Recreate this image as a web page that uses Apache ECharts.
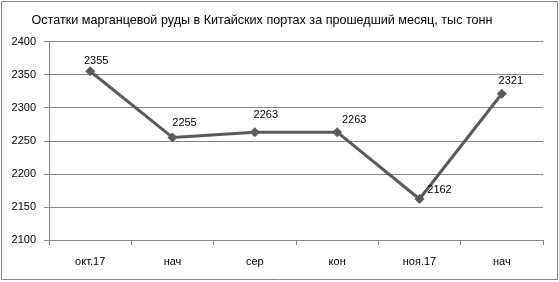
<!DOCTYPE html>
<html><head><meta charset="utf-8">
<script src="https://cdn.jsdelivr.net/npm/echarts@6/dist/echarts.min.js"></script>
<style>html,body{margin:0;padding:0;background:#fff}#c{width:559px;height:282px}</style>
</head><body><div id="c"></div>
<script>
const title = 'Остатки марганцевой руды в Китайских портах за прошедший месяц, тыс тонн';
const categories = ['окт.17', 'нач', 'сер', 'кон', 'ноя.17', 'нач'];
const values = [2355, 2255, 2263, 2263, 2162, 2321];
const yMin = 2100, yMax = 2400, yStep = 50;

// label placement (style, not data)
const labelOffsets = [[6, 5], [12, 1], [11, -2], [17, 3], [20, 6], [9, 3]];
const FONT = 'Liberation Sans';

const chart = echarts.init(document.getElementById('c'));
chart.setOption({
  animation: false,
  textStyle: { fontFamily: FONT },
  title: {
    text: title, left: 257, top: 9, textAlign: 'center',
    textStyle: { fontFamily: FONT, fontSize: 12.6, fontWeight: 'normal', color: '#000' }
  },
  graphic: [{
    type: 'rect', shape: { x: 1.5, y: 1.5, width: 556, height: 278 },
    style: { fill: 'none', stroke: '#868686', lineWidth: 1 }, silent: true
  }],
  grid: { left: 49, right: 16, top: 41.5, bottom: 42 },
  xAxis: {
    type: 'category', data: categories, boundaryGap: true,
    axisLine: { lineStyle: { color: '#868686' } },
    axisTick: { show: true, length: 5, lineStyle: { color: '#868686' } },
    axisLabel: { color: '#000', fontSize: 11, margin: 16, fontFamily: FONT }
  },
  yAxis: {
    type: 'value', min: yMin, max: yMax, interval: yStep,
    axisLine: { show: true, lineStyle: { color: '#868686' } },
    axisTick: { show: true, length: 5, lineStyle: { color: '#868686' } },
    splitLine: { lineStyle: { color: '#868686' } },
    axisLabel: { color: '#000', fontSize: 11, margin: 13, fontFamily: FONT, formatter: v => String(v) }
  },
  series: [{
    type: 'line', data: values.map((v, i) => ({
      value: v,
      label: { offset: labelOffsets[i] }
    })),
    lineStyle: { color: '#5a5a5a', width: 3 },
    itemStyle: { color: '#5a5a5a' },
    symbol: 'diamond', symbolSize: 10,
    label: { show: true, position: 'top', color: '#000', fontSize: 11, fontFamily: FONT }
  }]
});
</script></body></html>
